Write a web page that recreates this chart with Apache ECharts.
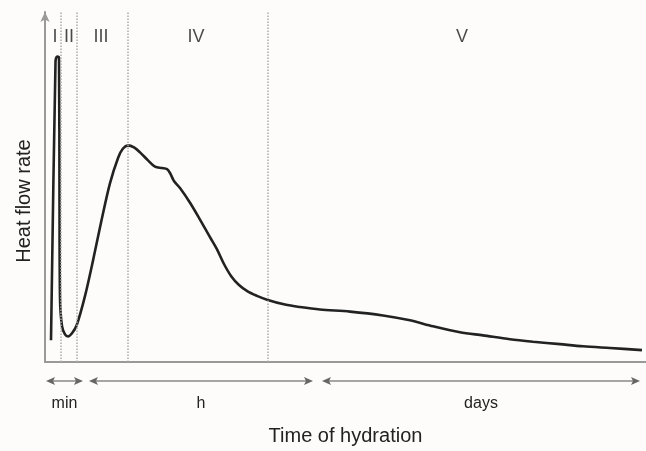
<!DOCTYPE html>
<html>
<head>
<meta charset="utf-8">
<script src="https://cdn.jsdelivr.net/npm/echarts@6/dist/echarts.min.js"></script>
<style>
  html, body { margin: 0; padding: 0; background: #fdfcfb; }
  #chart { width: 646px; height: 451px; }
</style>
</head>
<body>
<div id="chart"></div>
<script>
// time of hydration (arbitrary schematic units, 0-100)
const timeValues = [1.0, 1.75, 2.0, 2.33, 2.41, 2.5, 2.83, 3.33, 3.83, 4.49, 5.27, 6.66, 8.04, 9.43,
  10.82, 12.2, 12.98, 13.81, 14.81, 15.81, 17.14, 18.3, 19.47, 20.3, 20.8, 21.46, 22.46, 24.13,
  25.79, 27.45, 28.62, 29.78, 30.95, 32.28, 33.78, 35.27, 36.94, 39.93, 42.43, 45.76, 50.75, 56.24, 60.73,
  64.56, 69.05, 72.88, 77.37, 81.2, 85.69, 89.52, 94.01, 99.33];
// heat flow rate (arbitrary units, 0-100)
const heatValues = [6.2, 85.9, 87.3, 87.0, 46.3, 18.1, 10.2, 7.9, 7.3, 8.2, 10.5, 18.9, 29.4, 40.7,
  51.1, 58.5, 61.0, 61.9, 61.3, 59.9, 57.6, 55.8, 55.4, 55.1, 54.0, 51.7, 49.7, 45.5,
  40.7, 35.7, 32.2, 28.0, 24.6, 22.0, 20.1, 18.9, 17.8, 16.4, 15.7, 15.0, 14.4, 13.3, 11.9,
  10.2, 8.5, 7.6, 6.5, 5.8, 5.1, 4.5, 4.0, 3.4];

// stage boundaries and labels
const stageBounds = [2.66, 5.32, 13.81, 37.1];
const stageNames = ['I', 'II', 'III', 'IV', 'V'];
const stageLabelX = [1.66, 3.99, 9.32, 25.12, 69.38];
const stageLabelY = 92.9;

// time-scale spans shown under the axis
const spanNames = ['min', 'h', 'days'];
const spanStart = [0.17, 7.32, 46.09];
const spanEnd = [6.32, 44.59, 99.0];

const font = 'Liberation Sans, Arial, sans-serif';
const chart = echarts.init(document.getElementById('chart'));

const option = {
  backgroundColor: '#fdfcfb',
  animation: false,
  grid: { left: 45, right: 0, top: 12, bottom: 87 },
  xAxis: {
    type: 'value', min: 0, max: 100,
    name: 'Time of hydration', nameLocation: 'middle', nameGap: 64,
    nameTextStyle: { fontSize: 20, color: '#222', fontFamily: font },
    axisLine: { lineStyle: { color: '#999', width: 2 } },
    axisTick: { show: false }, axisLabel: { show: false }, splitLine: { show: false }
  },
  yAxis: {
    type: 'value', min: 0, max: 100,
    name: 'Heat flow rate', nameLocation: 'middle', nameGap: 11,
    nameTextStyle: { fontSize: 20, color: '#222', fontFamily: font, padding: [0, 28, 0, 0] },
    axisLine: { show: true, symbol: ['none', 'arrow'], symbolSize: [7, 10],
      lineStyle: { color: '#999', width: 2 } },
    axisTick: { show: false }, axisLabel: { show: false }, splitLine: { show: false }
  },
  series: [
    {
      type: 'line',
      data: timeValues.map((t, i) => [t, heatValues[i]]),
      showSymbol: false,
      smooth: 0.3,
      lineStyle: { color: '#222', width: 2.6 },
      markLine: {
        silent: true,
        symbol: ['none', 'none'],
        label: { show: false },
        lineStyle: { color: '#aaa', type: 'dotted', width: 1.5 },
        data: stageBounds.map(v => ({ xAxis: v }))
      }
    },
    {
      type: 'scatter',
      symbolSize: 0,
      data: stageNames.map((n, i) => ({ name: n, value: [stageLabelX[i], stageLabelY] })),
      label: {
        show: true, position: 'inside', formatter: '{b}',
        fontSize: 18, color: '#1a1a1a', fontFamily: font
      }
    }
  ]
};
chart.setOption(option);

// double-headed arrows with time-scale labels under the x axis
const arrowY = 381;
const graphics = [];
spanNames.forEach((name, i) => {
  const x0 = chart.convertToPixel({ gridIndex: 0 }, [spanStart[i], 0])[0];
  const x1 = chart.convertToPixel({ gridIndex: 0 }, [spanEnd[i], 0])[0];
  graphics.push({
    type: 'line', shape: { x1: x0 + 4, y1: arrowY, x2: x1 - 4, y2: arrowY },
    style: { stroke: '#888', lineWidth: 1.5 }
  });
  graphics.push({
    type: 'polygon', shape: { points: [[x0, arrowY], [x0 + 9, arrowY - 4], [x0 + 7, arrowY], [x0 + 9, arrowY + 4]] },
    style: { fill: '#666' }
  });
  graphics.push({
    type: 'polygon', shape: { points: [[x1, arrowY], [x1 - 9, arrowY - 4], [x1 - 7, arrowY], [x1 - 9, arrowY + 4]] },
    style: { fill: '#666' }
  });
  graphics.push({
    type: 'text', x: (x0 + x1) / 2, y: 404,
    style: { text: name, fontSize: 16, fill: '#222', fontFamily: font,
      textAlign: 'center', textVerticalAlign: 'middle' }
  });
});
chart.setOption({ graphic: graphics });
</script>
</body>
</html>
